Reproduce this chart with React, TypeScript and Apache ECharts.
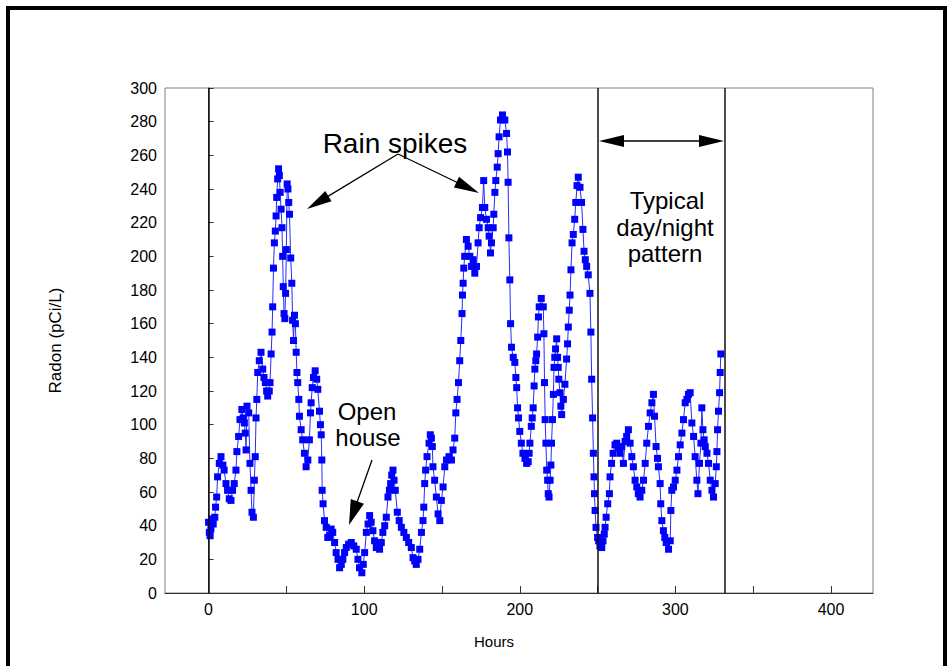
import React, { useEffect, useRef } from 'react';
import * as echarts from 'echarts';

// Hours since start of measurement
const hours = [
  0, 0.5, 1, 1.5, 2, 3, 4, 4.5, 5.2, 5.8, 6.9, 8, 9.2, 10, 11.2, 12.2, 13.3, 14.4, 15.4, 16.5,
  17.6, 18.2, 19.3, 20.2, 21.4, 22.2, 23, 23.6, 24.1, 24.7, 25.8, 26.6, 27.3, 27.9, 28.8, 29.4, 30, 30.5, 31, 31.6,
  32.6, 33.7, 34.8, 35.6, 36.5, 37.3, 38, 39, 39.5, 40.2, 40.8, 41.2, 41.7, 42.3, 42.9, 43.4, 43.8, 44.4, 45, 45.5,
  46, 46.6, 47.2, 47.6, 48, 48.5, 49, 49.5, 50, 50.5, 51, 51.5, 52, 52.8, 53.5, 54, 54.6, 55.2, 55.8, 56.3,
  56.8, 57.3, 58, 58.4, 59.5, 60.5, 61.6, 62.7, 63.8, 64.8, 65.5, 65.9, 66.6, 67.4, 68.5, 69.5, 70.2, 71.3, 71.9, 72.4,
  72.8, 73, 73.6, 74.5, 75.6, 76.6, 77.7, 78.8, 79.8, 81, 82, 83.2, 84.2, 85.3, 86.3, 87.4, 88.5, 90, 91.7, 93.3,
  94.9, 96, 97, 98.5, 99.4, 100.3, 101.4, 102.5, 103.5, 104.5, 105.6, 106.7, 107.8, 109.9, 111, 112, 113.2, 114.2, 115.3, 116.2,
  117, 117.7, 118.5, 119.2, 120, 121.3, 122.5, 123.9, 125.5, 127.1, 128.6, 130.3, 131.4, 132.5, 133.5, 134.6, 135.7, 136.8, 137.8, 138.3,
  138.9, 139.5, 140.4, 141.7, 142.5, 143.2, 143.8, 144.2, 145.3, 146.4, 147.5, 148.6, 149.6, 150.7, 151.8, 152.9, 154.5, 156.1, 157.1, 158.2,
  158.9, 159.7, 160.6, 161.4, 162.1, 162.9, 163.2, 163.6, 164, 164.6, 165.7, 166.8, 167.9, 169, 170, 171.1, 172.2, 173.2, 173.9, 174.8,
  176, 176.8, 177.5, 178.6, 179.7, 180.3, 181.2, 181.8, 182.9, 183.3, 184, 184.6, 185.5, 186.1, 186.7, 187.6, 188.9, 190.4, 191.5, 192.1,
  192.5, 193, 193.6, 194.1, 194.7, 195.8, 196.8, 197.5, 198, 198.6, 199.2, 200, 201, 202, 203.3, 204.4, 205.4, 206, 206.5, 207.4,
  208, 208.6, 209.2, 209.7, 210.3, 210.8, 211.5, 212, 212.5, 213.8, 215.1, 215.5, 215.9, 216.3, 216.8, 217.3, 217.9, 218.3, 218.8, 219.5,
  220, 220.4, 221, 221.6, 222, 222.5, 223, 223.7, 224.3, 224.7, 225.1, 225.8, 226.4, 226.9, 228, 229, 230.1, 230.7, 231.2, 231.8,
  232.3, 232.9, 233.6, 234.4, 235.3, 236, 236.8, 237.6, 238.7, 239.7, 240.6, 241.3, 242.1, 243, 244, 245.1, 245.7, 246.2, 246.8, 247.3,
  247.7, 248, 248.4, 249, 250, 250.7, 251.5, 252.7, 253.5, 254.3, 254.8, 255.5, 256.5, 257.6, 258, 259, 260, 261.2, 262.3, 263.4,
  264.5, 265.5, 266.6, 267.7, 268.7, 269.8, 270.9, 272, 273, 274.1, 275.2, 276.2, 277.3, 278.4, 279.5, 280.6, 281.6, 282.7, 283.8, 284.9,
  285.9, 286.6, 287.6, 288.5, 289.1, 290.2, 290.6, 291.3, 292.3, 293.2, 294.1, 295.6, 296.7, 297.1, 297.7, 298.8, 299.9, 301, 302, 303.1,
  304.2, 305.2, 306.3, 307.4, 308.4, 309.5, 310.6, 311.7, 312.7, 313.8, 314.5, 315.5, 316.4, 317, 317.7, 318.5, 319.2, 320.3, 321.3, 322.4,
  323.5, 324.5, 325.6, 326.3, 326.7, 327.1, 327.7, 328.4, 328.8, 329.2,
];

// Radon concentration, pCi/L
const radon = [
  42, 36, 34, 38, 44, 41, 45, 51, 57, 69, 77, 81, 76, 73, 65, 61, 56, 55, 61, 65,
  73, 84, 93, 103, 109, 104, 101, 95, 85, 111, 107, 77, 61, 48, 45, 67, 81, 104, 115, 131,
  138, 143, 133, 128, 125, 120, 117, 120, 125, 142, 155, 170, 193, 208, 215, 224, 235, 246, 252, 248,
  238, 228, 217, 200, 182, 166, 163, 178, 204, 243, 240, 232, 225, 199, 184, 162, 150, 165, 160, 143,
  131, 125, 115, 105, 97, 91, 83, 75, 79, 91, 107, 113, 122, 128, 132, 127, 121, 108, 100, 94,
  79, 61, 53, 43, 39, 33, 34, 38, 36, 30, 24, 20, 15, 17, 20, 24, 27, 29, 30, 28,
  26, 20, 15, 12, 17, 24, 36, 41, 46, 42, 37, 31, 27, 26, 30, 36, 40, 45, 57, 61,
  65, 70, 73, 67, 61, 48, 43, 39, 36, 33, 30, 27, 21, 19, 17, 20, 26, 36, 43, 51,
  65, 73, 81, 89, 94, 92, 87, 75, 67, 57, 47, 43, 55, 63, 75, 79, 81, 79, 85, 92,
  107, 115, 125, 138, 150, 166, 177, 184, 193, 200, 210, 206, 200, 194, 198, 190, 194, 208, 217, 223,
  229, 245, 229, 222, 217, 212, 202, 208, 217, 225, 238, 245, 253, 261, 271, 281, 284, 281, 273, 262,
  244, 211, 186, 160, 146, 140, 137, 128, 122, 110, 104, 96, 89, 83, 80, 77, 78, 83, 89, 99,
  104, 110, 123, 133, 138, 142, 152, 164, 170, 175, 170, 154, 125, 103, 89, 73, 67, 59, 57, 67,
  76, 89, 103, 118, 134, 140, 145, 151, 140, 134, 127, 119, 111, 106, 115, 124, 139, 148, 158, 168,
  177, 192, 208, 213, 222, 232, 242, 247, 241, 232, 216, 203, 198, 194, 189, 178, 155, 127, 104, 83,
  69, 59, 49, 39, 33, 31, 28, 27, 31, 35, 39, 45, 53, 59, 69, 77, 83, 88, 89, 86,
  83, 87, 77, 90, 93, 97, 89, 81, 75, 67, 63, 59, 57, 61, 67, 77, 89, 99, 107, 113,
  118, 105, 87, 80, 75, 65, 53, 43, 37, 33, 30, 26, 31, 49, 61, 63, 67, 73, 81, 88,
  95, 103, 113, 115, 118, 119, 101, 93, 81, 67, 59, 77, 89, 110, 97, 91, 87, 83, 77, 67,
  61, 57, 65, 75, 84, 97, 108, 119, 131, 142,
];

// Reference lines (hours)
const markerHours = [0, 250, 332];

const FONT = '"Liberation Sans", Arial, sans-serif';

function arrow(x1: number, y1: number, x2: number, y2: number, len = 25, w = 12): any[] {
  const dx = x2 - x1;
  const dy = y2 - y1;
  const d = Math.hypot(dx, dy);
  const ux = dx / d;
  const uy = dy / d;
  const bx = x2 - ux * len;
  const by = y2 - uy * len;
  const px = (-uy * w) / 2;
  const py = (ux * w) / 2;
  return [
    { type: 'line', shape: { x1, y1, x2: bx + ux * 2, y2: by + uy * 2 }, style: { stroke: '#000', lineWidth: 1.3 } },
    {
      type: 'polygon',
      shape: { points: [[x2, y2], [bx + px, by + py], [bx - px, by - py]] },
      style: { fill: '#000' },
    },
  ];
}

export default function App() {
  const ref = useRef<HTMLDivElement>(null);

  useEffect(() => {
    if (!ref.current) return;
    const chart = echarts.init(ref.current, null, { renderer: 'svg' });

    const label = (text: string, x: number, y: number, size: number) => ({
      type: 'text',
      x,
      y,
      style: {
        text,
        fontSize: size,
        fontFamily: FONT,
        fill: '#000',
        align: 'center',
        verticalAlign: 'middle',
      },
    });

    const graphics: any[] = [
      {
        type: 'rect',
        shape: { x: 8, y: 8, width: 937, height: 700 },
        style: { fill: 'none', stroke: '#000', lineWidth: 4 },
      },
      label('Rain spikes', 395, 143, 28),
      ...arrow(398, 154, 307, 209),
      ...arrow(398, 154, 479, 193),
      label('Open', 367, 411, 24),
      label('house', 368, 437, 24),
      ...arrow(372, 460, 349, 525, 25, 14),
      label('Typical', 667, 200, 24),
      label('day/night', 665, 227, 24),
      label('pattern', 665, 253, 24),
      { type: 'line', shape: { x1: 615, y1: 141, x2: 708, y2: 141 }, style: { stroke: '#000', lineWidth: 1.3 } },
      { type: 'polygon', shape: { points: [[599, 141], [624, 135], [624, 147]] }, style: { fill: '#000' } },
      { type: 'polygon', shape: { points: [[724, 141], [699, 135], [699, 147]] }, style: { fill: '#000' } },
    ];

    chart.setOption({
      animation: false,
      backgroundColor: '#fff',
      grid: {
        left: 165,
        top: 88,
        width: 708,
        height: 505,
        show: true,
        borderColor: '#808080',
        borderWidth: 1,
        backgroundColor: 'transparent',
      },
      xAxis: {
        type: 'value',
        min: -28,
        max: 427,
        minInterval: 50,
        maxInterval: 50,
        name: 'Hours',
        nameLocation: 'middle',
        nameGap: 41,
        nameTextStyle: { fontFamily: FONT, fontSize: 15, color: '#000', padding: [0, 50, 0, 0] },
        axisLine: { show: true, lineStyle: { color: '#333', width: 1 } },
        axisTick: { show: true, inside: true, length: 7, lineStyle: { color: '#333' } },
        axisLabel: {
          fontFamily: FONT,
          fontSize: 16,
          color: '#000',
          margin: 8,
          showMinLabel: false,
          showMaxLabel: false,
          formatter: (v: number) => (v % 100 === 0 ? String(v) : ''),
        },
        splitLine: { show: false },
      },
      yAxis: {
        type: 'value',
        min: 0,
        max: 300,
        interval: 20,
        name: 'Radon (pCi/L)',
        nameLocation: 'middle',
        nameRotate: 90,
        nameGap: 101,
        nameTextStyle: { fontFamily: FONT, fontSize: 17, color: '#000' },
        axisLine: { show: true, lineStyle: { color: '#333', width: 1 } },
        axisTick: { show: true, inside: true, length: 5, lineStyle: { color: '#333' } },
        axisLabel: { fontFamily: FONT, fontSize: 16, color: '#000', margin: 8 },
        splitLine: { show: false },
      },
      series: [
        {
          type: 'line',
          data: hours.map((h, i) => [h, radon[i]]),
          symbol: 'rect',
          symbolSize: 7,
          showAllSymbol: true,
          itemStyle: { color: '#0000ff' },
          lineStyle: { color: '#2a2aff', width: 1 },
          markLine: {
            silent: true,
            symbol: ['none', 'none'],
            label: { show: false },
            lineStyle: { color: '#111', width: 1.5, type: 'solid' },
            data: markerHours.map((h) => ({ xAxis: h })),
          },
        },
      ],
      graphic: graphics,
    });

    return () => chart.dispose();
  }, []);

  return (
    <div
      ref={ref}
      style={{ position: 'fixed', left: 0, top: 0, width: 951, height: 666, background: '#fff' }}
    />
  );
}
